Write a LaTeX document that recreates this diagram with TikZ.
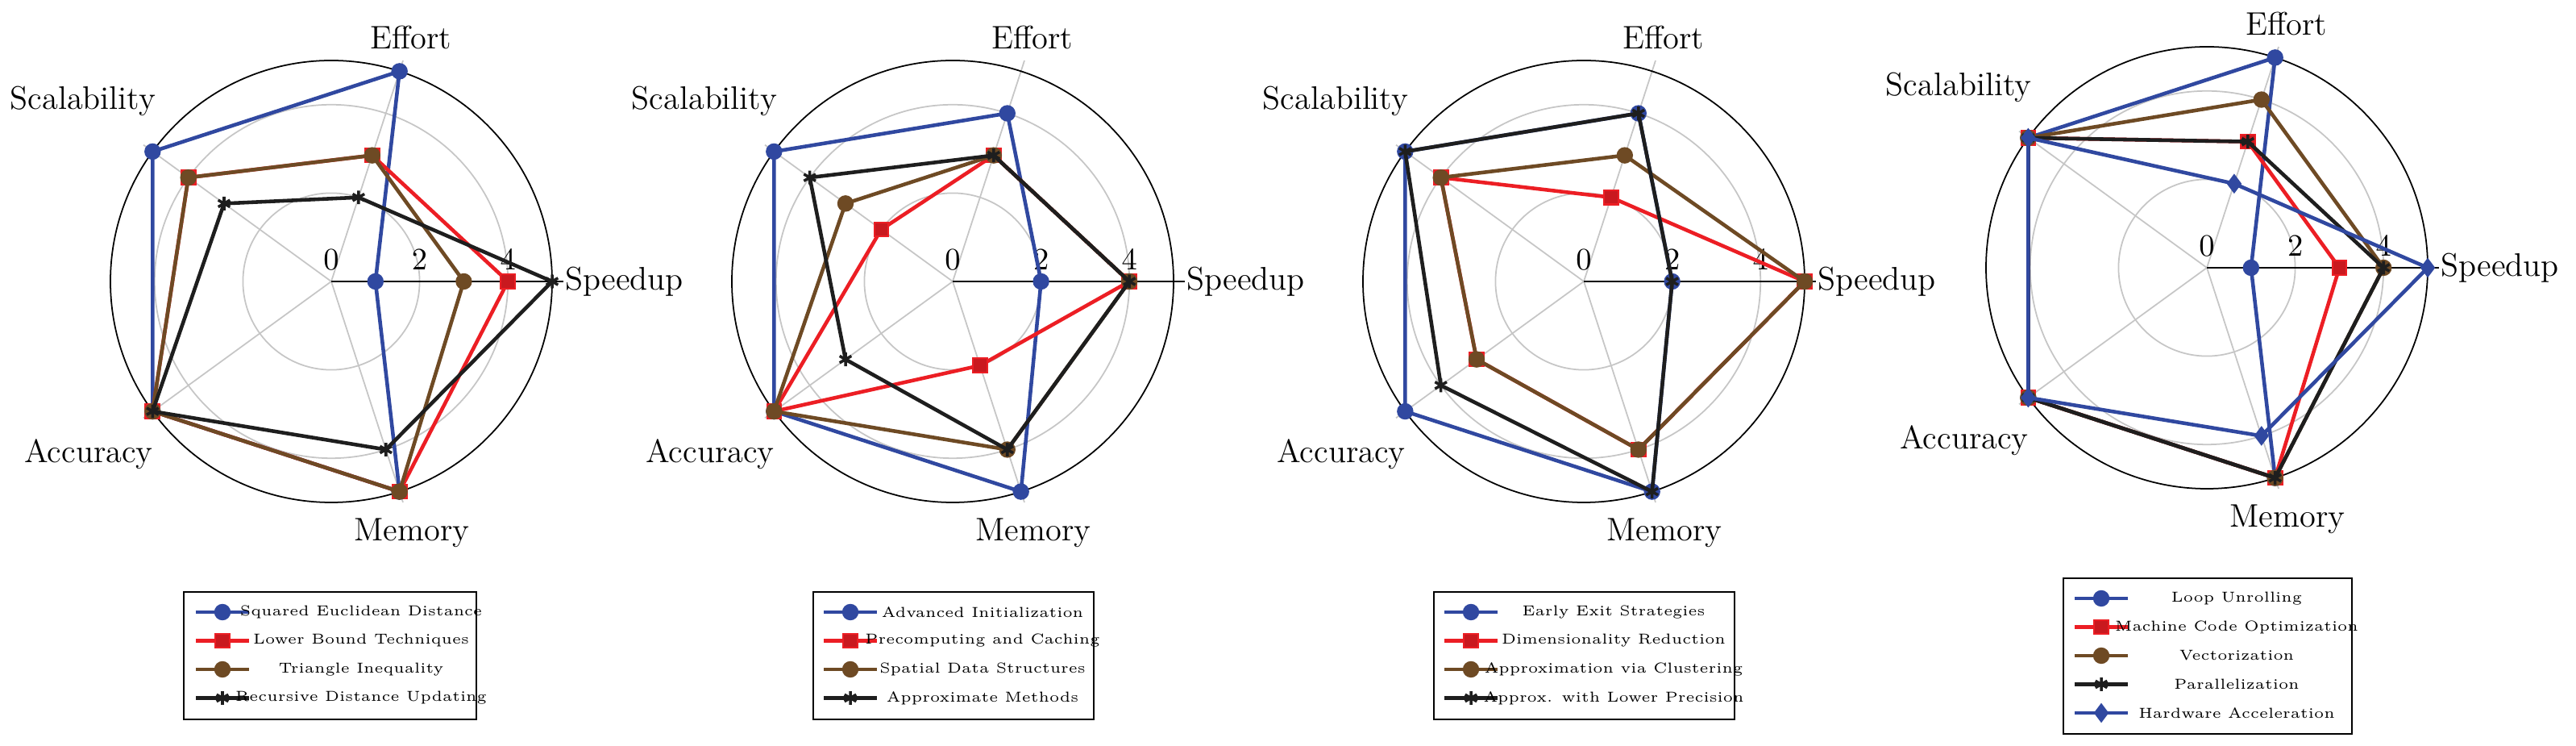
\documentclass[tikz,border=0pt]{standalone}
\usepackage{amsmath}
\usetikzlibrary{calc,positioning}
\usetikzlibrary{plotmarks}
\definecolor{sblue}{RGB}{48,72,160}
\definecolor{sred}{RGB}{236,30,36}
\definecolor{sbrown}{RGB}{110,74,36}
\definecolor{sblack}{RGB}{30,30,30}
\tikzset{
  grid/.style={gray!45,line width=0.5pt},
  axlab/.style={font=\fontsize{11.5}{13}\selectfont,inner sep=0pt},
  tick/.style={font=\fontsize{11}{12}\selectfont,inner sep=1pt,anchor=south},
  leg/.style={font=\fontsize{5.1}{6}\selectfont,inner sep=0pt},
  ser/.style={line width=1.3pt,line join=miter},
  sA/.style={ser,sblue,mark=*,mark size=2.6pt,mark options={fill=sblue,line width=0.6pt}},
  sB/.style={ser,sred,mark=square*,mark size=2.5pt,mark options={fill=sred!85!black,line width=0.6pt}},
  sC/.style={ser,sbrown,mark=*,mark size=2.6pt,mark options={fill=sbrown,line width=0.6pt}},
  sD/.style={ser,sblack,mark=asterisk,mark size=2.4pt,mark options={line width=1pt}},
  sE/.style={ser,sblue,mark=diamond*,mark size=3pt,mark options={fill=sblue,line width=0.6pt}},
}
% radar grid around the current origin
\newcommand{\radargrid}[1]{%
  \draw[grid] (0,0) circle (1.096) (0,0) circle (2.192);
  \foreach \a in {72,144,216,288}{\draw[grid] (0,0) -- (\a:2.88);}
  \draw[black,line width=0.5pt] (0,0) circle (2.74);
  \draw[black,line width=0.5pt] (0,0) -- (0:2.88);
  \foreach \v in {0,2,4}{\node[tick] (#1t\v) at (\v*0.548,0.1) {$\v$};}
  \node[axlab,anchor=west] (#1sp) at (2.9,0) {Speedup};
  \node[axlab] (#1ef) at (0.99,3.03) {Effort};
  \node[axlab] (#1sc) at (-3.08,2.24) {Scalability};
  \node[axlab] (#1ac) at (-3.01,-2.14) {Accuracy};
  \node[axlab] (#1me) at (1.0,-3.12) {Memory};
}
% one data series: style, speedup, effort, scalability, accuracy, memory
\newcommand{\series}[6]{%
  \draw[#1] plot coordinates {(0:{#2*0.548}) (72:{#3*0.548}) (144:{#4*0.548}) (216:{#5*0.548}) (288:{#6*0.548})} -- cycle;
}
% legend row: name prefix, row, style, text
\newcommand{\legrow}[4]{%
  \draw[#3,mark repeat=2,mark phase=2] plot coordinates {(\lx,{-4.1-0.355*#2}) (\lx+0.33,{-4.1-0.355*#2}) (\lx+0.66,{-4.1-0.355*#2})};
  \node[leg] (#1l#2) at (0.37,{-4.1-0.355*#2}) {#4};
}
\begin{document}
\begin{tikzpicture}
\useasboundingbox (0,0) rectangle (31.96,-9.25);

% chart 1
\begin{scope}[shift={(4.11,-3.49)}]
  \radargrid{a}
  \series{sA}{1}{5}{5}{5}{5}
  \series{sB}{4}{3}{4}{5}{5}
  \series{sC}{3}{3}{4}{5}{5}
  \series{sD}{5}{2}{3}{5}{4}
  \def\lx{-1.68}
  \draw[line width=0.5pt] (-1.83,-3.85) rectangle (1.80,-5.43);
  \legrow{a}{0}{sA}{Squared Euclidean Distance}
  \legrow{a}{1}{sB}{Lower Bound Techniques}
  \legrow{a}{2}{sC}{Triangle Inequality}
  \legrow{a}{3}{sD}{Recursive Distance Updating}
\end{scope}

% chart 2
\begin{scope}[shift={(11.82,-3.49)}]
  \radargrid{b}
  \series{sA}{2}{4}{5}{5}{5}
  \series{sB}{4}{3}{2}{5}{2}
  \series{sC}{4}{3}{3}{5}{4}
  \series{sD}{4}{3}{4}{3}{4}
  \def\lx{-1.60}
  \draw[line width=0.5pt] (-1.73,-3.85) rectangle (1.75,-5.43);
  \legrow{b}{0}{sA}{Advanced Initialization}
  \legrow{b}{1}{sB}{Precomputing and Caching}
  \legrow{b}{2}{sC}{Spatial Data Structures}
  \legrow{b}{3}{sD}{Approximate Methods}
\end{scope}

% chart 3
\begin{scope}[shift={(19.65,-3.49)}]
  \radargrid{c}
  \series{sA}{2}{4}{5}{5}{5}
  \series{sB}{5}{2}{4}{3}{4}
  \series{sC}{5}{3}{4}{3}{4}
  \series{sD}{2}{4}{5}{4}{5}
  \def\lx{-1.73}
  \draw[line width=0.5pt] (-1.86,-3.85) rectangle (1.87,-5.43);
  \legrow{c}{0}{sA}{Early Exit Strategies}
  \legrow{c}{1}{sB}{Dimensionality Reduction}
  \legrow{c}{2}{sC}{Approximation via Clustering}
  \legrow{c}{3}{sD}{Approx. with Lower Precision}
\end{scope}

% chart 4
\begin{scope}[shift={(27.38,-3.32)}]
  \radargrid{d}
  \series{sA}{1}{5}{5}{5}{5}
  \series{sB}{3}{3}{5}{5}{5}
  \series{sC}{4}{4}{5}{5}{5}
  \series{sD}{4}{3}{5}{5}{5}
  \series{sE}{5}{2}{5}{5}{4}
  \def\lx{-1.64}
  \draw[line width=0.5pt] (-1.78,-3.85) rectangle (1.80,-5.78);
  \legrow{d}{0}{sA}{Loop Unrolling}
  \legrow{d}{1}{sB}{Machine Code Optimization}
  \legrow{d}{2}{sC}{Vectorization}
  \legrow{d}{3}{sD}{Parallelization}
  \legrow{d}{4}{sE}{Hardware Acceleration}
\end{scope}
\end{tikzpicture}
\end{document}
